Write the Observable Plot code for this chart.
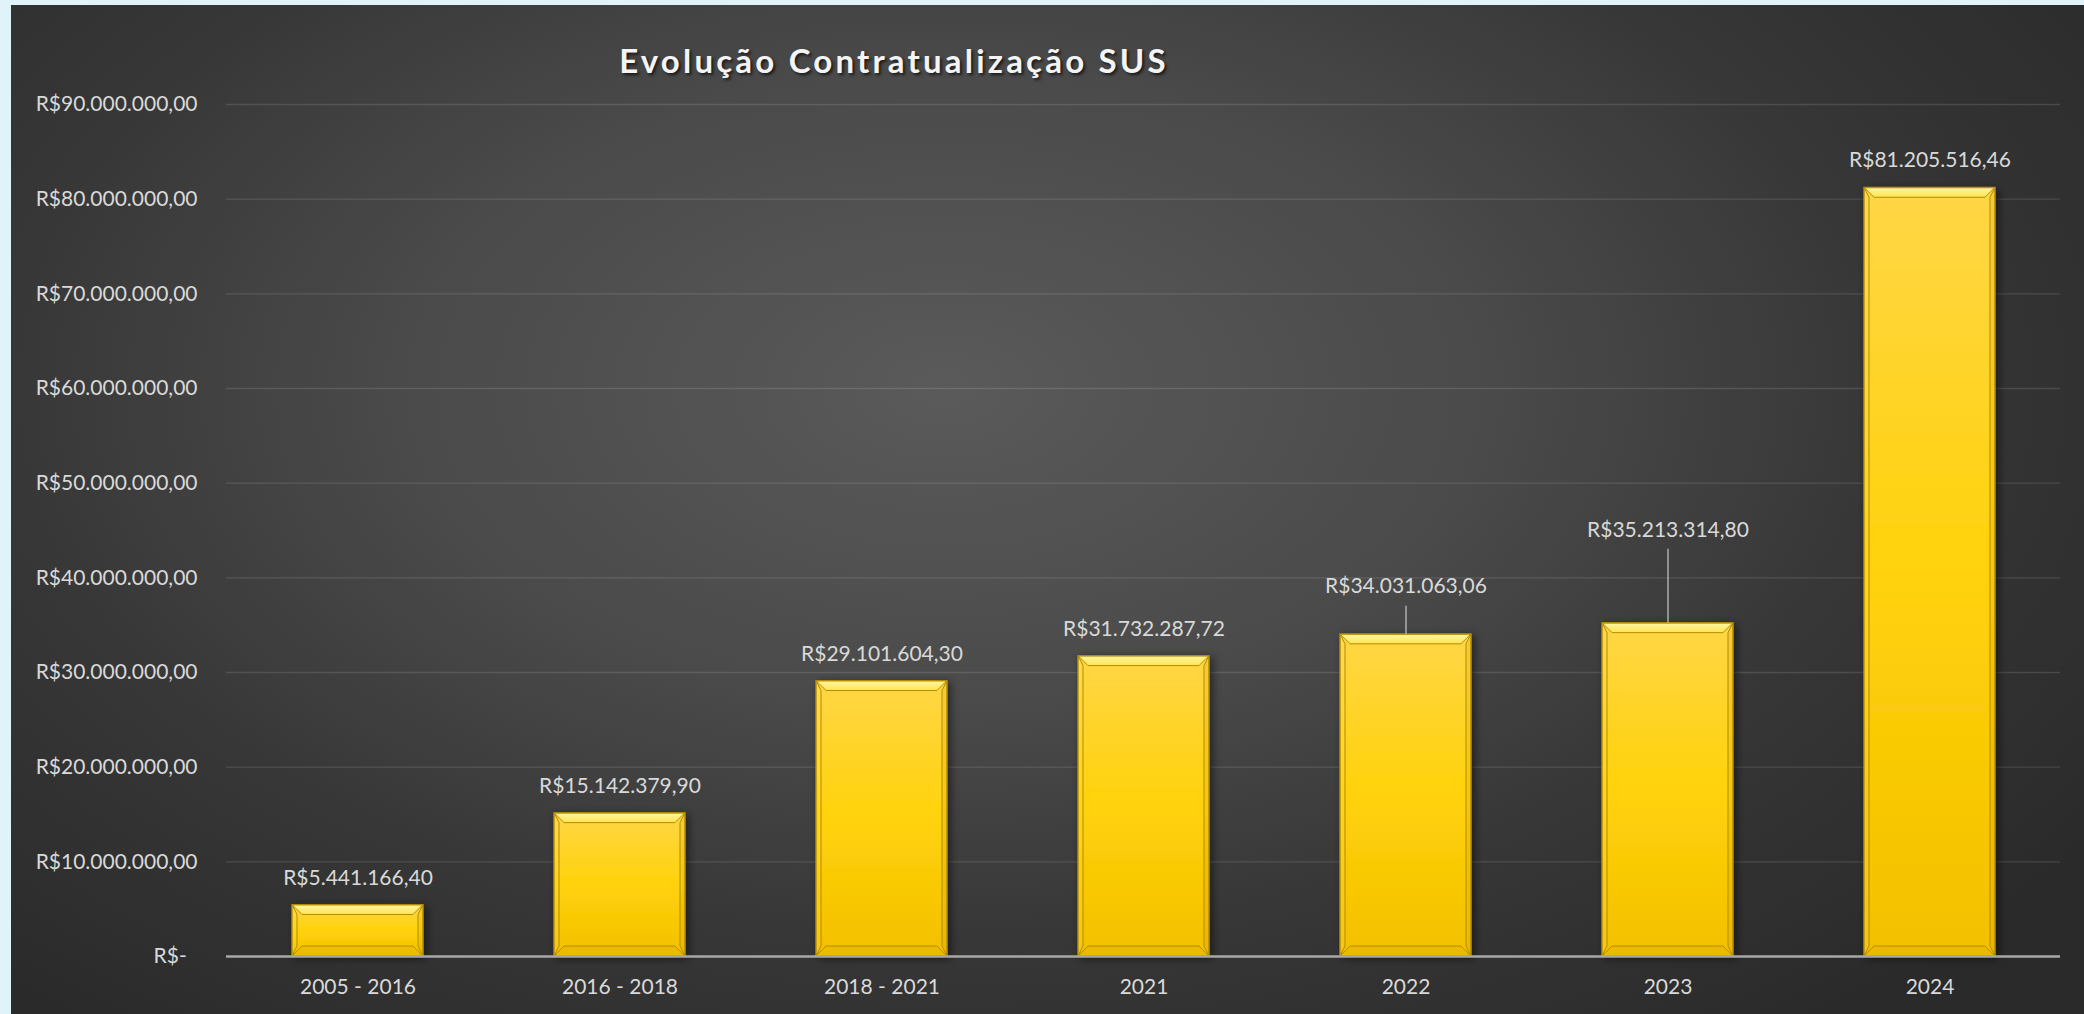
<!DOCTYPE html>
<html><head><meta charset="utf-8">
<script src="https://cdn.jsdelivr.net/npm/d3@7"></script>
<script src="https://cdn.jsdelivr.net/npm/@observablehq/plot@0.6"></script>
<style>
html,body{margin:0;padding:0;width:2084px;height:1014px;overflow:hidden;background:#e1f3fa}
#chart{position:absolute;left:11px;top:5px;width:2073px;height:1009px;
  background:radial-gradient(ellipse 75% 90% at 45% 38%, #5a5a5a 0%, #4a4a4a 35%, #363636 62%, #2a2a2a 90%);}
#title{position:absolute;top:35px;left:383px;width:1000px;text-align:center;
  font:bold 33px Lato, "Open Sans", sans-serif;line-height:40px;color:#f4f4f4;letter-spacing:3.2px;
  text-shadow:2px 2px 3px rgba(0,0,0,0.65)}
#plot{position:absolute;left:0;top:0}
</style>
</head><body>
<div id="chart"><div id="plot"></div><div id="title">Evolução Contratualização SUS</div></div>
<script>
const categories = ["2005 - 2016","2016 - 2018","2018 - 2021","2021","2022","2023","2024"];
const values = [5441166.40, 15142379.90, 29101604.30, 31732287.72, 34031063.06, 35213314.80, 81205516.46];
const yTicks = [0,10e6,20e6,30e6,40e6,50e6,60e6,70e6,80e6,90e6];

const W = 2073, H = 1009, mL = 215, mR = 24, mT = 99, mB = 58;
const pxPerUnit = (H - mT - mB) / 90e6;
// label lift above bar top (px); leaders for the two moved labels
const liftPx = {"2022": 48, "2023": 93};
const leaderTopPx = {"2022": 28, "2023": 74};
const defaultLift = 27;

const data = categories.map((c, i) => ({cat: c, value: values[i]}));
const loc = d3.formatLocale({decimal: ",", thousands: ".", grouping: [3], currency: ["R$", ""]});
const fmt = loc.format("$,.2f");

const labelData = data.map(d => ({...d, ly: d.value + (liftPx[d.cat] ?? defaultLift) / pxPerUnit}));
const leaderData = data.filter(d => leaderTopPx[d.cat] != null)
  .map(d => ({...d, y2: d.value + leaderTopPx[d.cat] / pxPerUnit}));

const svg = Plot.plot({
  width: W, height: H, marginLeft: mL, marginRight: mR, marginTop: mT, marginBottom: mB,
  style: {background: "transparent", color: "#d9d9d9", fontFamily: "Lato, 'Open Sans', sans-serif", fontSize: "21px"},
  x: {domain: categories, paddingInner: 0.5, paddingOuter: 0.25, label: null, tickSize: 0, tickPadding: 23},
  y: {domain: [0, 90e6], ticks: yTicks, tickFormat: d => d === 0 ? "R$-\u00a0\u00a0" : fmt(d), label: null, tickSize: 0, tickPadding: 29},
  marks: [
    Plot.ruleY(yTicks.filter(d => d > 0), {stroke: "#ffffff", strokeOpacity: 0.12, strokeWidth: 1.3}),
    Plot.barY(data, {x: "cat", y: "value", fill: "url(#barGrad)", stroke: "#b38b00", strokeWidth: 1}),
    Plot.ruleY([0], {stroke: "#a8a8a8", strokeWidth: 2.5}),
    Plot.ruleX(leaderData, {x: "cat", y1: "value", y2: "y2", stroke: "#c8c8c8", strokeWidth: 1.2}),
    Plot.text(labelData, {x: "cat", y: "ly", text: d => fmt(d.value), fill: "#d9d9d9", lineAnchor: "middle"})
  ]
});

const s = d3.select(svg);
s.insert("defs", ":first-child").html(`
  <linearGradient id="barGrad" x1="0" y1="0" x2="0" y2="1">
    <stop offset="0" stop-color="#ffd646"/>
    <stop offset="0.5" stop-color="#ffd20a"/>
    <stop offset="1" stop-color="#f3c000"/>
  </linearGradient>
  <linearGradient id="topBevel" x1="0" y1="0" x2="0" y2="1">
    <stop offset="0" stop-color="#fff7a8"/>
    <stop offset="1" stop-color="#ffe650"/>
  </linearGradient>
  <filter id="shadow" x="-20%" y="-20%" width="150%" height="150%">
    <feDropShadow dx="3" dy="2" stdDeviation="4" flood-color="#000" flood-opacity="0.5"/>
  </filter>`);
const barG = s.selectAll('g[aria-label="bar"]');
barG.attr("filter", "url(#shadow)");
barG.selectAll("rect").each(function() {
  const r = d3.select(this);
  const x = +r.attr("x"), y = +r.attr("y"), w = +r.attr("width"), h = +r.attr("height");
  const b = 10, sb = 5;
  const g = d3.select(this.parentNode);
  const poly = (pts, fill, op) => g.append("polygon").attr("points", pts.map(p => p.join(",")).join(" "))
    .attr("fill", fill).attr("fill-opacity", op).attr("transform", r.attr("transform"));
  poly([[x, y + h], [x + w, y + h], [x + w - b, y + h - b], [x + b, y + h - b]], "#c89600", 0.16);
  poly([[x, y], [x + sb, y + b], [x + sb, y + h - b], [x, y + h]], "#fff0a0", 0.12);
  poly([[x + w, y], [x + w - sb, y + b], [x + w - sb, y + h - b], [x + w, y + h]], "#b88a00", 0.14);
  poly([[x + 0.5, y + 0.5], [x + w - 0.5, y + 0.5], [x + w - b, y + b], [x + b, y + b]], "url(#topBevel)", 0.95);
});
document.getElementById("plot").appendChild(svg);
</script>
</body></html>
